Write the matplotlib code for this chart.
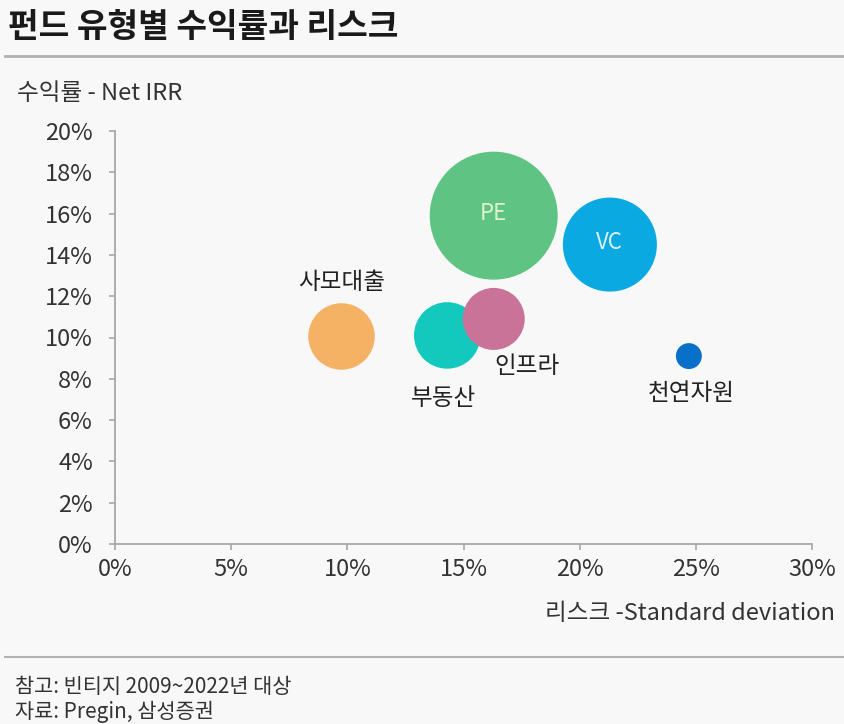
import matplotlib
matplotlib.use('Agg')
import matplotlib.pyplot as plt
import numpy as np

plt.rcParams['font.family'] = ['Noto Sans CJK KR', 'DejaVu Sans']

###
# data
funds = ['사모대출', '부동산', '인프라', 'PE', 'VC', '천연자원']
risk = [9.75, 14.3, 16.3, 16.3, 21.3, 24.7]        # std deviation, %
irr = [10.05, 10.1, 10.9, 15.9, 14.5, 9.1]          # net IRR, %
weight = [27, 27, 23.5, 100, 54, 4.1]               # relative bubble area
colors = ['#f5b265', '#13c8bc', '#c97398', '#5ec383', '#0aa9e1', '#0870c8']

x_ticks = [0, 5, 10, 15, 20, 25, 30]
y_ticks = [0, 2, 4, 6, 8, 10, 12, 14, 16, 18, 20]

bg = '#f8f8f8'
grey_txt = '#333333'

fig = plt.figure(figsize=(8.44, 7.24), dpi=100, facecolor=bg)
ax = fig.add_axes([115/844, 1-544/724, (812-115)/844, (544-131)/724])
ax.set_facecolor(bg)

# bubbles
s = np.array(weight) * 84.9
ax.scatter(risk, irr, s=s, c=colors, edgecolors='none', zorder=3, clip_on=False)

ax.set_xlim(0, 30)
ax.set_ylim(0, 20)
ax.set_xticks(x_ticks)
ax.set_yticks(y_ticks)
ax.set_xticklabels([f'{t}%' for t in x_ticks])
ax.set_yticklabels([f'{t}%' for t in y_ticks])

for sp in ['top', 'right']:
    ax.spines[sp].set_visible(False)
for sp in ['left', 'bottom']:
    ax.spines[sp].set_color('#a8a8a8')
    ax.spines[sp].set_linewidth(1.3)
ax.tick_params(axis='both', colors='#a8a8a8', length=4, width=1.2,
               labelsize=17, labelcolor=grey_txt)
ax.tick_params(axis='x', pad=6)
ax.tick_params(axis='y', pad=12)

# labels
lab = dict(fontsize=17, color='#222222', ha='center', va='center')
ax.text(risk[0], irr[0] + 2.6, funds[0], **lab)
ax.text(risk[1] - 0.15, irr[1] - 3.05, funds[1], **lab)
ax.text(risk[2] + 1.45, irr[2] - 2.3, funds[2], **lab)
ax.text(risk[5] + 0.1, irr[5] - 1.8, funds[5], **lab)
ax.text(risk[3], irr[3] + 0.1, funds[3], fontsize=16, color='#dff3cf', ha='center', va='center', zorder=4)
ax.text(risk[4], irr[4] + 0.1, funds[4], fontsize=16, color='#dcf0fa', ha='center', va='center', zorder=4)

# titles and notes
fig.text(8/844, 1-27/724, '펀드 유형별 수익률과 리스크', fontsize=24, fontweight='bold',
         color='#1a1a1a', ha='left', va='center')
fig.add_artist(plt.Line2D([5/844, 1], [1-56/724, 1-56/724], color='#b0b0b0', lw=2))
fig.text(17/844, 1-93/724, '수익률 - Net IRR', fontsize=17, color=grey_txt, ha='left', va='center')
fig.text(835/844, 1-613/724, '리스크 -Standard deviation', fontsize=17, color=grey_txt,
         ha='right', va='center')
fig.add_artist(plt.Line2D([5/844, 1], [1-657/724, 1-657/724], color='#b0b0b0', lw=1.5))
fig.text(15/844, 1-687/724, '참고: 빈티지 2009~2022년 대상', fontsize=15, color=grey_txt,
         ha='left', va='center')
fig.text(15/844, 1-712/724, '자료: Pregin, 삼성증권', fontsize=15, color=grey_txt,
         ha='left', va='center')

fig.savefig('out.png', dpi=100, facecolor=bg)
